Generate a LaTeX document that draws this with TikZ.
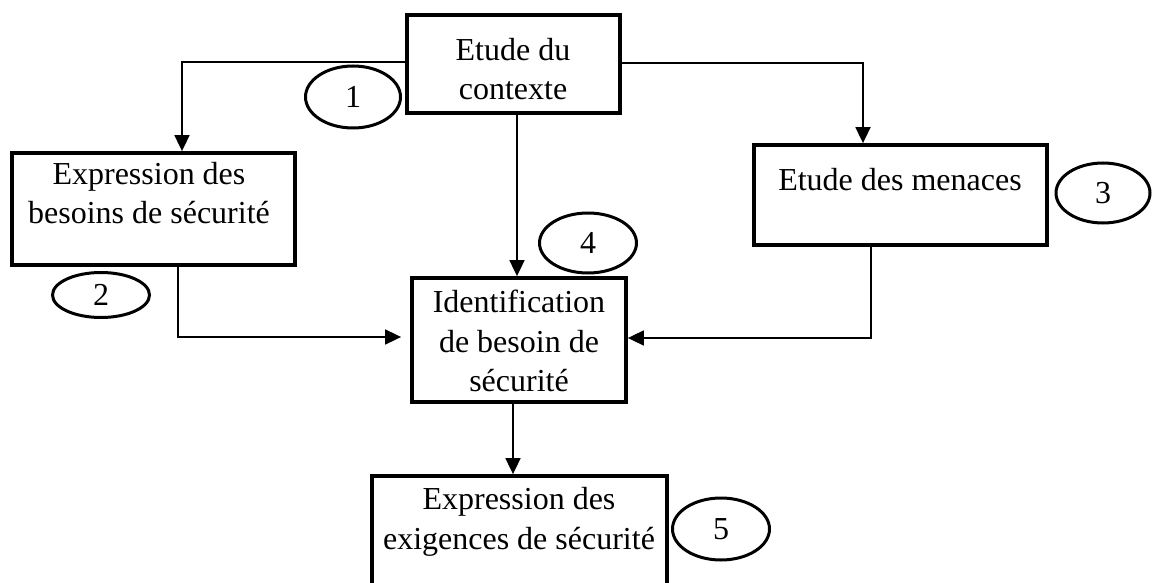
\documentclass[tikz,border=0pt]{standalone}
\usepackage{fontspec}
\setmainfont{Liberation Serif}
\usetikzlibrary{arrows.meta,shapes.geometric}
\begin{document}
\begin{tikzpicture}[x=1pt,y=-1pt,
  box/.style={draw,line width=3.8pt,rectangle,inner sep=0pt},
  txt/.style={align=center,inner sep=0pt,font=\fontsize{32}{39.5}\selectfont},
  num/.style={draw,ellipse,line width=3pt,inner sep=0pt,font=\fontsize{32}{39}\selectfont},
  conn/.style={line width=1.8pt,-{Triangle[length=16pt,width=15pt]}}]
\useasboundingbox (0,0) rectangle (1152,583);
\clip (0,0) rectangle (1152,583);
\fill[white] (0,0) rectangle (1152,583);
% boxes
\node[box,minimum width=213pt,minimum height=98pt] (ctx) at (513.5,64) {};
\node[box,minimum width=283pt,minimum height=112pt] (bes) at (153.5,209) {};
\node[box,minimum width=293pt,minimum height=100pt] (men) at (900.5,195) {};
\node[box,minimum width=214pt,minimum height=124pt] (ident) at (519,340) {};
\node[box,minimum width=295pt,minimum height=144pt] (exig) at (519.5,548) {};
% texts
\node[txt] (tctx) at (513,69) {Etude du\\contexte};
\node[txt] (tbes) at (149,193) {Expression des\\besoins de sécurité};
\node[txt] (tmen) at (900,180) {Etude des menaces};
\node[txt] (tident) at (519,341) {Identification\\de besoin de\\sécurité};
\node[txt] (texig) at (519,522) {Expression des\\exigences de sécurité};
% numbers
\node[num,minimum width=95pt,minimum height=62pt] (n1) at (353,97) {1};
\node[num,minimum width=97pt,minimum height=45pt] (n2) at (101,295) {2};
\node[num,minimum width=94pt,minimum height=60pt] (n3) at (1103,193) {3};
\node[num,minimum width=97pt,minimum height=60pt] (n4) at (588,243) {4};
\node[num,minimum width=97pt,minimum height=62pt] (n5) at (721,529) {5};
% connectors
\draw[conn] ([yshift=2pt]ctx.west) -| ([xshift=28.5pt]bes.north);
\draw[conn] ([yshift=1pt]ctx.east) -| ([xshift=-37.5pt]men.north);
\draw[conn] ([xshift=3.5pt]ctx.south) -- ([xshift=-2pt]ident.north);
\draw[conn] ([xshift=24.5pt]bes.south) |- ([xshift=-9pt,yshift=3pt]ident.west);
\draw[conn] ([xshift=-29.5pt]men.south) |- ([yshift=2pt]ident.east);
\draw[conn] ([xshift=-6pt]ident.south) -- ([xshift=-6.5pt]exig.north);
\end{tikzpicture}
\end{document}
